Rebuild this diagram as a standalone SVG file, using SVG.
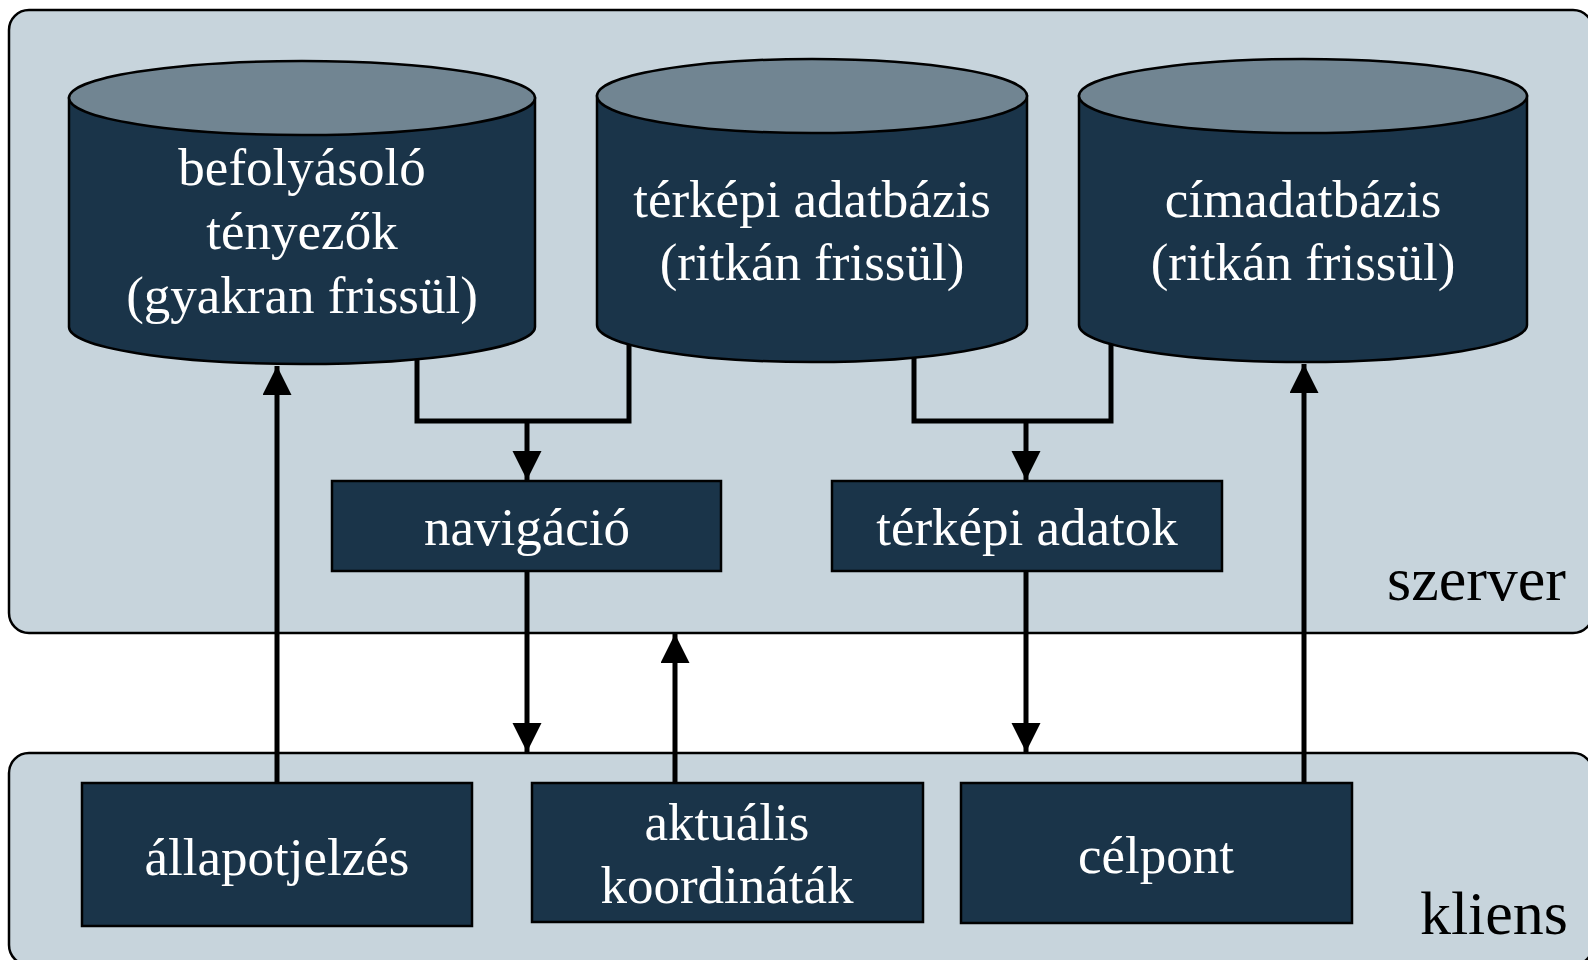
<svg xmlns="http://www.w3.org/2000/svg" width="1588" height="960" viewBox="0 0 1588 960">
<style>
.container{fill:#c7d4dc;stroke:#000;stroke-width:2.5}
.body{fill:#1a3449;stroke:#000;stroke-width:2.5}
.top{fill:#718592;stroke:#000;stroke-width:2.5}
.box{fill:#1a3449;stroke:#000;stroke-width:2.5}
.t{font-family:"Liberation Serif","Times New Roman",serif;font-size:53px;fill:#fff;text-anchor:middle}
.lbl{font-family:"Liberation Serif","Times New Roman",serif;font-size:62px;fill:#000;text-anchor:end}
.c{fill:none;stroke:#000;stroke-width:5;stroke-linejoin:miter}
</style>
<defs>
<marker id="arr" markerUnits="userSpaceOnUse" markerWidth="30" markerHeight="30" refX="29" refY="14.5" orient="auto">
<path d="M0,0 L29,14.5 L0,29 z" fill="#000"/>
</marker>
</defs>
<g id="server">
<rect class="container" x="9" y="10" width="1584" height="623" rx="20"/>
<text class="lbl" x="1566" y="600">szerver</text>
</g>
<g id="client">
<rect class="container" x="9" y="753" width="1584" height="212" rx="20"/>
<text class="lbl" x="1568" y="934">kliens</text>
</g>
<g id="connectors">
<path class="c" d="M277,783 V366" marker-end="url(#arr)"/>
<path class="c" d="M417,340 V421 H629 V330"/>
<path class="c" d="M527,421 V480" marker-end="url(#arr)"/>
<path class="c" d="M914,340 V421 H1111 V330"/>
<path class="c" d="M1026,421 V480" marker-end="url(#arr)"/>
<path class="c" d="M527,571 V752" marker-end="url(#arr)"/>
<path class="c" d="M675,783 V634" marker-end="url(#arr)"/>
<path class="c" d="M1026,571 V752" marker-end="url(#arr)"/>
<path class="c" d="M1304,783 V364" marker-end="url(#arr)"/>
</g>
<g id="db1">
<path class="body" d="M69,98 V327 A233,37 0 0 0 535,327 V98 z"/>
<ellipse class="top" cx="302" cy="98" rx="233" ry="37"/>
<text class="t" x="302" y="185">befolyásoló</text>
<text class="t" x="302" y="249">tényezők</text>
<text class="t" x="302" y="313">(gyakran frissül)</text>
</g>
<g id="db2">
<path class="body" d="M597,96 V325 A215,37 0 0 0 1027,325 V96 z"/>
<ellipse class="top" cx="812" cy="96" rx="215" ry="37"/>
<text class="t" x="812" y="217">térképi adatbázis</text>
<text class="t" x="812" y="280">(ritkán frissül)</text>
</g>
<g id="db3">
<path class="body" d="M1079,96 V325 A224,37 0 0 0 1527,325 V96 z"/>
<ellipse class="top" cx="1303" cy="96" rx="224" ry="37"/>
<text class="t" x="1303" y="217">címadatbázis</text>
<text class="t" x="1303" y="280">(ritkán frissül)</text>
</g>
<g id="navigacio">
<rect class="box" x="332" y="481" width="389" height="90"/>
<text class="t" x="527" y="545">navigáció</text>
</g>
<g id="terkepi-adatok">
<rect class="box" x="832" y="481" width="390" height="90"/>
<text class="t" x="1027" y="545">térképi adatok</text>
</g>
<g id="allapotjelzes">
<rect class="box" x="82" y="783" width="390" height="143"/>
<text class="t" x="277" y="875">állapotjelzés</text>
</g>
<g id="aktualis">
<rect class="box" x="532" y="783" width="391" height="139"/>
<text class="t" x="727" y="840">aktuális</text>
<text class="t" x="727" y="903">koordináták</text>
</g>
<g id="celpont">
<rect class="box" x="961" y="783" width="391" height="140"/>
<text class="t" x="1156" y="873">célpont</text>
</g>
</svg>
